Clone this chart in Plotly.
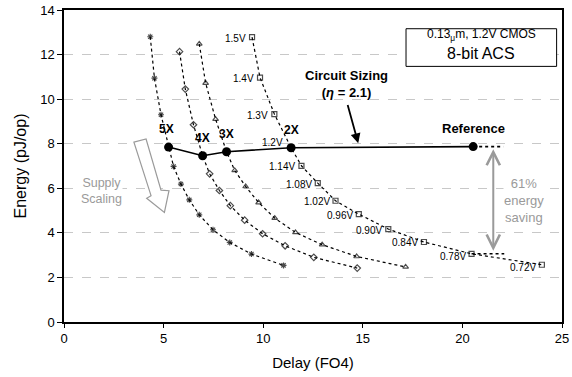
import plotly.graph_objects as go

volts = ["1.5V", "1.4V", "1.3V", "1.2V", "1.14V", "1.08V", "1.02V", "0.96V", "0.90V", "0.84V", "0.78V", "0.72V"]

delay_5x = [4.33, 4.54, 4.87, 5.25, 5.50, 5.87, 6.29, 6.79, 7.48, 8.32, 9.41, 11.02]
energy_5x = [12.80, 10.94, 9.30, 7.85, 6.98, 6.19, 5.48, 4.81, 4.14, 3.57, 3.05, 2.54]
delay_4x = [5.80, 6.09, 6.50, 6.96, 7.31, 7.80, 8.35, 9.07, 9.97, 11.10, 12.54, 14.72]
energy_4x = [12.13, 10.45, 8.85, 7.46, 6.65, 5.90, 5.22, 4.57, 3.96, 3.42, 2.90, 2.42]
delay_3x = [6.79, 7.11, 7.61, 8.16, 8.57, 9.12, 9.77, 10.58, 11.62, 12.96, 14.69, 17.15]
energy_3x = [12.48, 10.72, 9.10, 7.64, 6.80, 6.08, 5.36, 4.66, 4.02, 3.47, 2.94, 2.47]
delay_2x = [9.44, 9.84, 10.56, 11.40, 11.92, 12.74, 13.63, 14.80, 16.28, 18.07, 20.46, 23.99]
energy_2x = [12.78, 10.97, 9.33, 7.82, 7.01, 6.23, 5.44, 4.84, 4.17, 3.59, 3.06, 2.57]

ref_delay = 20.54
ref_energy = 7.87
sizing_labels = ["5X", "4X", "3X", "2X", "Reference"]

x_ticks = [0, 5, 10, 15, 20, 25]
y_ticks = [0, 2, 4, 6, 8, 10, 12, 14]

FONT = "Liberation Sans, Arial, sans-serif"
GRAY = "#9a9a9a"

fig = go.Figure()

series = [
    (delay_5x, energy_5x, "asterisk-open"),
    (delay_4x, energy_4x, "diamond-open"),
    (delay_3x, energy_3x, "triangle-up-open"),
    (delay_2x, energy_2x, "square-open"),
]
i12 = volts.index("1.2V")
for dx, ey, sym in series:
    sizes = [5 if i != i12 else 0 for i in range(len(dx))]
    fig.add_trace(go.Scatter(
        x=dx, y=ey, mode="lines+markers",
        line=dict(color="black", width=1.2, dash="dot"),
        marker=dict(symbol=sym, size=sizes, color="black", line=dict(color="black", width=1.2)),
        hoverinfo="skip", showlegend=False,
    ))

# dotted extensions
fig.add_trace(go.Scatter(x=[ref_delay, 22.05], y=[ref_energy, ref_energy], mode="lines",
                         line=dict(color="black", width=1.8, dash="dot"), showlegend=False))
fig.add_trace(go.Scatter(x=[delay_2x[volts.index("0.78V")], 22.1],
                         y=[energy_2x[volts.index("0.78V")]] * 2, mode="lines",
                         line=dict(color="black", width=1.5, dash="dot"), showlegend=False))

# circuit sizing line
sx = [delay_5x[i12], delay_4x[i12], delay_3x[i12], delay_2x[i12], ref_delay]
sy = [energy_5x[i12], energy_4x[i12], energy_3x[i12], energy_2x[i12], ref_energy]
fig.add_trace(go.Scatter(x=sx, y=sy, mode="lines+markers",
                         line=dict(color="black", width=1.6),
                         marker=dict(symbol="circle", size=9, color="black"),
                         showlegend=False))

ann = []
# voltage labels
for i, v in enumerate(volts):
    ys = -1
    xs = -4
    if v == "1.2V":
        ys = 5
        xs = -6
    elif v in ("0.78V", "0.72V"):
        ys = -3
    ann.append(dict(x=delay_2x[i], y=energy_2x[i], text=v, showarrow=False,
                    xanchor="right", yanchor="middle", xshift=xs, yshift=ys,
                    font=dict(family=FONT, size=10, color="black")))
# sizing labels
for lab, x, y in zip(sizing_labels, sx, sy):
    ann.append(dict(x=x, y=y, text="<b>%s</b>" % lab, showarrow=False,
                    xanchor="center", yanchor="middle", yshift=18, xshift=-2 if lab == "5X" else 0,
                    font=dict(family=FONT, size=13 if lab == "Reference" else 12, color="black")))

ann.append(dict(x=14.2, y=10.68, text="<b>Circuit Sizing<br>(<i>η</i> = 2.1)</b>", showarrow=False,
                xanchor="center", yanchor="middle",
                font=dict(family=FONT, size=13, color="black")))
ann.append(dict(x=14.77, y=ref_energy + 0.15, ax=14.22, ay=9.8, xref="x", yref="y", axref="x", ayref="y",
                showarrow=True, arrowhead=2, arrowsize=1.1, arrowwidth=1.8, arrowcolor="black", text=""))
ann.append(dict(x=1.88, y=5.88, text="Supply<br>Scaling", showarrow=False, bgcolor="white",
                font=dict(family=FONT, size=12.5, color=GRAY), borderpad=0))
ann.append(dict(x=23.1, y=5.45, text="61%<br>energy<br>saving", showarrow=False, bgcolor="white",
                font=dict(family=FONT, size=13, color=GRAY), borderpad=0))
ann.append(dict(x=21.55, y=3.2, ax=21.55, ay=ref_energy - 0.05, xref="x", yref="y", axref="x", ayref="y",
                showarrow=True, arrowhead=5, startarrowhead=5, arrowside="end+start",
                arrowsize=1.3, startarrowsize=1.3, arrowwidth=2, arrowcolor=GRAY, text=""))
ann.append(dict(x=20.95, y=12.86, text="0.13<sub>μ</sub>m, 1.2V CMOS", showarrow=False,
                font=dict(family=FONT, size=12, color="black")))
ann.append(dict(x=20.95, y=12.05, text="8-bit ACS", showarrow=False,
                font=dict(family=FONT, size=16, color="black")))

shapes = [
    dict(type="rect", xref="x", yref="y", x0=17.17, x1=24.73, y0=11.47, y1=13.16,
         fillcolor="white", line=dict(color="black", width=1), layer="above"),
    dict(type="path", xref="x", yref="y",
         path="M 3.51 8.07 L 4.12 8.21 L 4.87 5.92 L 5.27 5.89 L 5.04 4.92 L 4.15 5.55 L 4.37 5.67 Z",
         fillcolor="white", line=dict(color=GRAY, width=1.2)),
]

fig.update_layout(
    width=572, height=377,
    margin=dict(l=64, r=10, t=10, b=55),
    paper_bgcolor="white", plot_bgcolor="white",
    font=dict(family=FONT, size=13, color="black"),
    annotations=ann, shapes=shapes,
    showlegend=False,
)
fig.update_xaxes(range=[0, 25], tickvals=x_ticks, showgrid=False, zeroline=False, automargin=False,
                 showline=True, linecolor="black", linewidth=1.5, mirror=True,
                 ticks="outside", ticklen=4, tickcolor="black", ticklabeloverflow="allow",
                 tickfont=dict(size=13),
                 title=dict(text="Delay (FO4)", font=dict(size=15), standoff=12))
fig.update_yaxes(range=[0, 14], tickvals=y_ticks, showgrid=True, gridcolor="#c8c8c8",
                 griddash="dash", gridwidth=1, zeroline=False, automargin=False,
                 showline=True, linecolor="black", linewidth=1.5, mirror=True,
                 ticks="outside", ticklen=5, tickcolor="black", ticklabeloverflow="allow",
                 tickfont=dict(size=13),
                 title=dict(text="Energy (pJ/op)", font=dict(size=16), standoff=10))

fig.write_html("out.html", config={"displayModeBar": False},
               post_script="document.body.style.margin='0';")
